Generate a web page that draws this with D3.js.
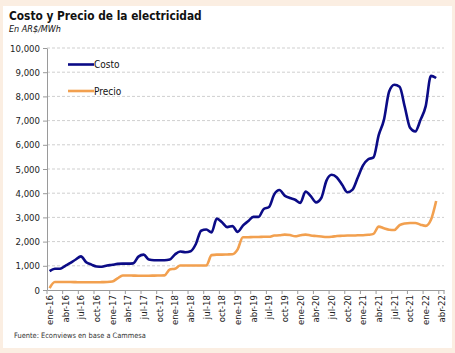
<html>
<script src="https://d3js.org/d3.v7.min.js"></script>
<style>
  body { margin:0; background:#fbeee2; }
  text { font-family: "DejaVu Sans Condensed", "DejaVu Sans", sans-serif; }
</style>
<body>
<svg id="plot"></svg>
<script>

// month names and years for the category axis
var monthNames = ["ene","feb","mar","abr","may","jun","jul","ago","sep","oct","nov","dic"];
var years = ["16","17","18","19","20","21","22"];

// Costo, AR$/MWh, ene-16 .. mar-22
var costo = [780,880,880,1000,1120,1260,1390,1150,1050,970,960,1010,
             1040,1080,1090,1090,1100,1380,1460,1260,1230,1230,1230,1260,
             1470,1590,1560,1600,1900,2450,2500,2380,2950,2800,2600,2640,
             2400,2660,2840,3020,3020,3350,3430,3950,4130,3900,3800,3730,
             3600,4070,3880,3620,3800,4520,4760,4650,4350,4040,4150,4650,
             5150,5400,5480,6400,7030,8200,8480,8400,7560,6700,6550,7030,
             7600,8850,8760];

// Precio, AR$/MWh, ene-16 .. mar-22
var precio = [80,330,330,330,330,325,320,320,320,320,325,330,
              350,480,600,600,595,590,590,590,595,600,605,850,
              880,1010,1010,1010,1010,1010,1010,1440,1460,1460,1470,1480,
              1680,2180,2180,2190,2190,2200,2200,2250,2260,2290,2270,2220,
              2260,2290,2250,2230,2210,2190,2200,2230,2240,2250,2250,2260,
              2260,2280,2320,2620,2550,2490,2480,2680,2750,2770,2770,2700,
              2650,2900,3680];

var yTicks = [0,1000,2000,3000,4000,5000,6000,7000,8000,9000,10000];

var seriesNames = ["Costo","Precio"];
var seriesColors = ["#0b0b86","#f2a04f"];

// categories ene-16 .. abr-22
var categories = [];
years.forEach(function(yr){
    monthNames.forEach(function(m){ categories.push(m+"-"+yr); });
});
categories = categories.slice(0, categories.indexOf("abr-22")+1);

var screen = {width:455, height:353};
var margins = {top:48, left:47, right:11, bottom:63};

var svg = d3.select("#plot")
    .attr("width",screen.width)
    .attr("height",screen.height);

//white panel
svg.append("rect")
    .attr("x",3).attr("y",6)
    .attr("width",449).attr("height",342)
    .attr("fill","white");

var xScale = d3.scaleBand()
    .domain(categories)
    .range([margins.left, screen.width-margins.right]);

var yScale = d3.scaleLinear()
    .domain([0,10000])
    .range([screen.height-margins.bottom, margins.top]);

var cx = function(i) { return xScale(categories[i]) + xScale.bandwidth()/2; };

//gridlines
svg.append("g")
    .selectAll("line")
    .data(yTicks.slice(1))
    .enter()
    .append("line")
    .attr("x1",margins.left)
    .attr("x2",screen.width-margins.right)
    .attr("y1",function(d){ return yScale(d);})
    .attr("y2",function(d){ return yScale(d);})
    .attr("stroke","#cfcfcf")
    .attr("stroke-dasharray","3,2")
    .attr("stroke-width",1);

//y axis
var yAxis = svg.append("g")
    .attr("transform","translate("+margins.left+",0)")
    .call(d3.axisLeft(yScale).tickValues(yTicks).tickFormat(d3.format(",")).tickSize(4).tickSizeOuter(0));
yAxis.selectAll("text").attr("font-size","9.5px").attr("fill","#222").attr("font-family","DejaVu Sans Condensed, DejaVu Sans");
yAxis.selectAll("line").attr("stroke","#9a9a9a");
yAxis.select(".domain").attr("stroke","#9a9a9a");

//x axis
var labelCats = categories.filter(function(d,i){ return i%3==0; });
var xAxis = svg.append("g")
    .attr("transform","translate(0,"+yScale(0)+")")
    .call(d3.axisBottom(xScale).tickValues(labelCats).tickSize(0).tickSizeOuter(0));
xAxis.select(".domain").attr("stroke","#9a9a9a");
xAxis.selectAll("text")
    .attr("font-size","9.5px")
    .attr("fill","#222")
    .attr("font-family","DejaVu Sans Condensed, DejaVu Sans")
    .attr("text-anchor","end")
    .attr("transform","rotate(-90)")
    .attr("x",-5)
    .attr("y",0)
    .attr("dy","0.35em");

//tick marks at category edges
svg.append("g")
    .selectAll("line")
    .data(labelCats.concat([null]))
    .enter()
    .append("line")
    .attr("x1",function(d){ return d ? xScale(d) : screen.width-margins.right; })
    .attr("x2",function(d){ return d ? xScale(d) : screen.width-margins.right; })
    .attr("y1",yScale(0))
    .attr("y2",yScale(0)+4)
    .attr("stroke","#9a9a9a");

//lines
var lineGenerator = d3.line()
    .x(function(v,i){ return cx(i); })
    .y(function(v){ return yScale(v); })
    .curve(d3.curveMonotoneX);

[costo,precio].forEach(function(s,k){
    svg.append("path")
        .datum(s)
        .attr("d",lineGenerator)
        .attr("fill","none")
        .attr("stroke",seriesColors[k])
        .attr("stroke-width",2.6)
        .attr("stroke-linejoin","round");
});

//legend
var legend = svg.append("g")
    .selectAll("g")
    .data(seriesNames)
    .enter()
    .append("g")
    .attr("transform",function(d,i){ return "translate(68,"+(64.5+i*26.5)+")"; });
legend.append("line")
    .attr("x1",0).attr("x2",26)
    .attr("stroke",function(d,i){ return seriesColors[i]; })
    .attr("stroke-width",2.6);
legend.append("text")
    .text(function(d){ return d; })
    .attr("x",26)
    .attr("y",3.5)
    .attr("font-size","10px")
    .attr("fill","#111");

//titles
svg.append("text")
    .text("Costo y Precio de la electricidad")
    .attr("x",9).attr("y",20)
    .attr("font-weight","bold")
    .attr("font-size","11.8px")
    .attr("fill","#111");

svg.append("text")
    .text("En AR$/MWh")
    .attr("x",9).attr("y",32)
    .attr("font-style","italic")
    .attr("font-size","9px")
    .attr("fill","#111");

svg.append("text")
    .text("Fuente: Econviews en base a Cammesa")
    .attr("x",14).attr("y",338)
    .attr("font-size","7.4px")
    .attr("fill","#333");

</script>
</body>
</html>
